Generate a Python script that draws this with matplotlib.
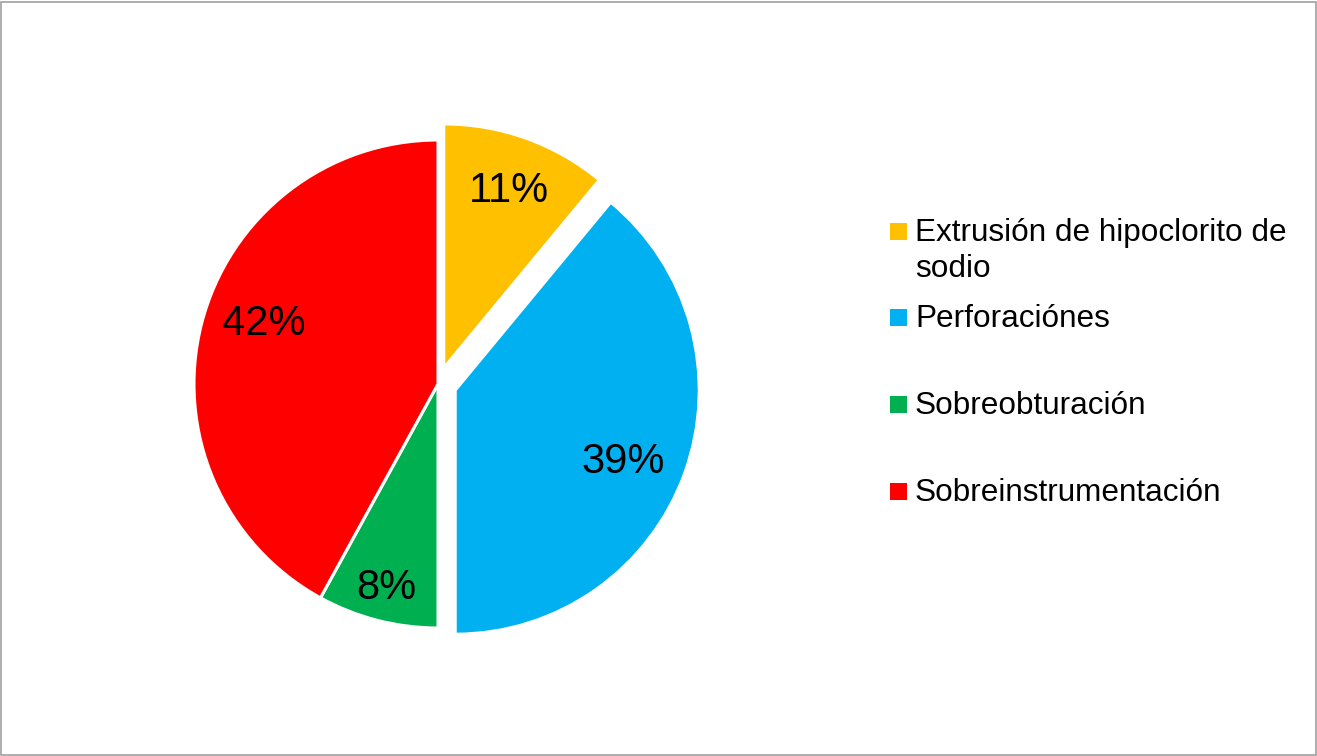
import textwrap
import matplotlib
matplotlib.use("Agg")
import matplotlib.pyplot as plt
from matplotlib.patches import Rectangle
import numpy as np

# ---- data ----
categories = ["Extrusión de hipoclorito de sodio", "Perforaciónes",
              "Sobreobturación", "Sobreinstrumentación"]
values = [11, 39, 8, 42]

# ---- style ----
colors = ["#FFC000", "#00B0F0", "#00B050", "#FF0000"]
explode = [0.07, 0.075, 0.0, 0.0]
label_radius = [0.79, 0.74, 0.845, 0.76]
label_angle_offset = [0, -2, 0, -6]   # degrees
FONT = ["Liberation Sans", "DejaVu Sans"]
plt.rcParams["font.family"] = FONT

W, H = 1317, 756
fig = plt.figure(figsize=(W / 100, H / 100), dpi=100)

# pie axes: centre at (438, 384) px, radius 244 px
cx, cy, rad, half = 438, 384, 244, 300
ax = fig.add_axes([(cx - half) / W, (H - cy - half) / H, 2 * half / W, 2 * half / H])
lim = half / rad

wedges, texts, autotexts = ax.pie(
    values, colors=colors, explode=explode, startangle=90, counterclock=False,
    radius=1, autopct="%1.0f%%", pctdistance=0.78,
    wedgeprops=dict(edgecolor="white", linewidth=2.2),
    textprops=dict(fontsize=30, color="black", family=FONT),
    frame=False)
ax.set_xlim(-lim, lim)
ax.set_ylim(-lim, lim)
ax.axis("off")

for w, t, lr, da in zip(wedges, autotexts, label_radius, label_angle_offset):
    mid = np.deg2rad((w.theta1 + w.theta2) / 2 + da)
    x0, y0 = w.center
    t.set_position((x0 + lr * np.cos(mid), y0 + lr * np.sin(mid)))
    t.set_va("center_baseline")

# ---- legend (manual, Excel-like) ----
legend_y_px = [231, 317, 404, 491]
marker_x_px, marker_size_px, text_x_px = 890, 17, 915
for cat, col, ypx in zip(categories, colors, legend_y_px):
    fig.patches.append(Rectangle(
        (marker_x_px / W, (H - ypx - marker_size_px / 2) / H),
        marker_size_px / W, marker_size_px / H,
        transform=fig.transFigure, facecolor=col, edgecolor="none"))
    label = textwrap.fill(cat, 27)
    fig.text(text_x_px / W, (H - ypx + 13) / H, label, fontsize=22.7,
             family=FONT, va="top", ha="left", linespacing=1.27)

# chart border
fig.patches.append(Rectangle((1 / W, 1 / H), 1 - 2.5 / W, 1 - 2.5 / H,
                             transform=fig.transFigure, fill=False,
                             edgecolor="#A0A0A0", linewidth=1.2))

fig.savefig("out.png", dpi=100, facecolor="white")
